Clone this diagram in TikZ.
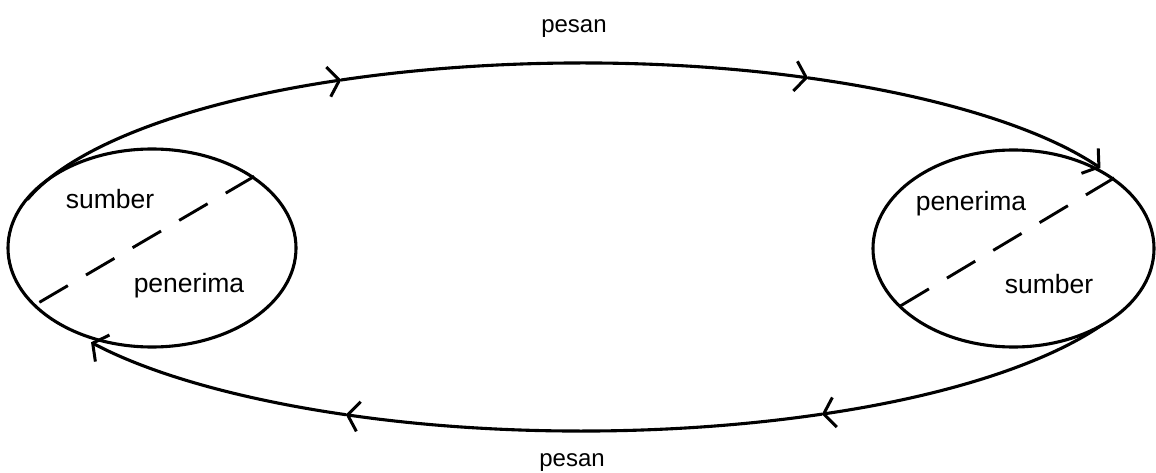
\documentclass[tikz,border=0pt]{standalone}
\usepackage{fontspec}
\setmainfont{Liberation Sans}
\usetikzlibrary{shapes.geometric,arrows.meta}
\begin{document}
\begin{tikzpicture}[x=1pt,y=1pt,
  loopline/.style={line width=3.1pt, line cap=round},
  tip/.style={-{Straight Barb[length=11pt,width=30pt,line width=3pt]}},
  lbl/.style={font=\fontsize{26.5}{30}\selectfont, inner sep=0pt, anchor=base},
  msg/.style={font=\fontsize{24}{28}\selectfont, inner sep=0pt, anchor=base},
  party/.style={draw, ellipse, line width=3.1pt, inner sep=0pt},
  divider/.style={line width=2.9pt, dash pattern=on 33pt off 21pt}
]
\useasboundingbox (0,0) rectangle (1156,-473);
% the two participants
\node[party, minimum width=288pt, minimum height=198pt] (L) at (152,-248) {};
\node[party, minimum width=281pt, minimum height=197pt] (R) at (1013.5,-248.5) {};
% dividers
\draw[divider] (L.35) -- (L.206);
\draw[divider] (R.35) -- (R.207);
% labels inside
\node[lbl] (sL) at (110,-208) {sumber};
\node[lbl] (pL) at (189,-292) {penerima};
\node[lbl] (pR) at (971,-211) {penerima};
\node[lbl] (sR) at (1049,-293) {sumber};
% message loop
\coordinate (C) at (582,-247);
\draw[loopline, tip] ([shift={(165:574 and 184)}]C) arc[start angle=165, end angle=114.8, x radius=574, y radius=184];
\draw[loopline, tip] ([shift={(114.8:574 and 184)}]C) arc[start angle=114.8, end angle=66.8, x radius=574, y radius=184];
\draw[loopline, tip] ([shift={(66.8:574 and 184)}]C) arc[start angle=66.8, end angle=25.4, x radius=574, y radius=184];
\draw[loopline, tip] ([shift={(-25:574 and 184)}]C) arc[start angle=-25, end angle=-65.3, x radius=574, y radius=184];
\draw[loopline, tip] ([shift={(-65.3:574 and 184)}]C) arc[start angle=-65.3, end angle=-114.3, x radius=574, y radius=184];
\draw[loopline, tip] ([shift={(-114.3:574 and 184)}]C) arc[start angle=-114.3, end angle=-148.8, x radius=574, y radius=184];
% message labels
\node[msg] (mT) at (574,-33) {pesan};
\node[msg] (mB) at (572,-466) {pesan};
\end{tikzpicture}
\end{document}
